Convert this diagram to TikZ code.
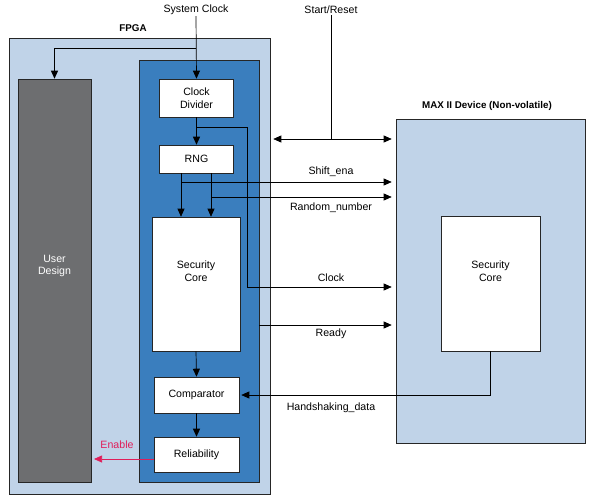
\documentclass[tikz,border=0pt]{standalone}
\usepackage{fontspec}
\setmainfont{Liberation Sans}
\usetikzlibrary{arrows.meta}
\definecolor{fpgafill}{RGB}{192,211,232}
\definecolor{corefill}{RGB}{58,126,190}
\definecolor{userfill}{RGB}{109,110,112}
\definecolor{enablered}{RGB}{224,30,90}
\begin{document}
\begin{tikzpicture}[x=1pt,y=-1pt,
        blk/.style={draw=black!85, line width=0.6pt, fill=white, inner sep=0pt, align=center, font=\fontsize{10.6}{12.6}\selectfont},
        sig/.style={line width=0.7pt, -{Triangle[length=8pt,width=7pt]}},
        lbl/.style={font=\fontsize{10.6}{12.6}\selectfont, inner sep=1pt, align=center},
        ttl/.style={font=\bfseries\fontsize{9.8}{12}\selectfont, inner sep=1pt}]
    \useasboundingbox (0,0) rectangle (596,499);
    % FPGA side
    \node[blk, fill=fpgafill, minimum width=261, minimum height=456] (fpga) at (139.5,266) {};
    \node[ttl] (fpgalbl) at (133,28) {FPGA};
    \node[blk, fill=userfill, minimum width=73, minimum height=403] (user) at (54.5,280.5) {};
    \node[lbl, text=white] (userlbl) at (54.5,266) {User\\Design};
    \node[blk, fill=corefill, minimum width=120, minimum height=422] (blue) at (199,271) {};
    \node[blk, minimum width=74, minimum height=38] (clkdiv) at (196.5,98) {Clock\\Divider};
    \node[blk, minimum width=74, minimum height=28] (rng) at (196.5,159) {RNG};
    \node[blk, minimum width=88, minimum height=134] (sc) at (196,284) {};
    \node[lbl] (sclbl) at (196,271) {Security\\Core};
    \node[blk, minimum width=85, minimum height=36] (cmp) at (196.5,395) {Comparator};
    \node[blk, minimum width=85, minimum height=35] (rel) at (196.5,454.5) {Reliability};
    % MAX II side
    \node[blk, fill=fpgafill, minimum width=189, minimum height=324] (max) at (490.5,281) {};
    \node[ttl] (maxlbl) at (487,106) {MAX II Device (Non-volatile)};
    \node[blk, minimum width=99, minimum height=135] (msc) at (490.5,283.5) {};
    \node[lbl] (msclbl) at (490.5,271) {Security\\Core};
    % inputs
    \node[lbl] (sysclk) at (196,10) {System Clock};
    \node[lbl] (startrst) at (331,10) {Start/Reset};
    \coordinate (sysbr) at (196,48);
    \coordinate (rstbr) at (331,139);
    \draw[sig] (sysclk.south) -- (clkdiv.north);
    \draw[sig] (sysbr) -| (user.north);
    \draw[line width=0.7pt] (startrst.south) -- (rstbr);
    \draw[sig, {Triangle[length=8pt,width=7pt]}-{Triangle[length=8pt,width=7pt]}, shorten <=3pt, shorten >=4pt]
        (fpga.east |- rstbr) -- (max.west |- rstbr);
    % inside the FPGA core
    \coordinate (clkbr) at (196.5,127);
    \coordinate (clkturn) at (247,287);
    \coordinate (shiftbr) at (181,182);
    \coordinate (randbr) at (211,197);
    \coordinate (readybr) at (259,325);
    \draw[sig] (clkdiv.south) -- (rng.north);
    \draw[sig] (rng.south -| shiftbr) -- (sc.north -| shiftbr);
    \draw[sig] (rng.south -| randbr) -- (sc.north -| randbr);
    \draw[sig] (sc.south) -- (cmp.north);
    \draw[sig] (cmp.south) -- (rel.north);
    % links to the MAX II
    \draw[sig, shorten >=4pt] (shiftbr) -- (shiftbr -| max.west);
    \draw[sig, shorten >=4pt] (randbr) -- (randbr -| max.west);
    \draw[sig, shorten >=4pt] (clkbr) -| (clkturn) -- (clkturn -| max.west);
    \draw[sig, shorten >=4pt] (readybr) -- (readybr -| max.west);
    \draw[sig, shorten >=2pt] (msc.south) |- (cmp.east);
    \foreach \y/\name/\txt in {172/shiftlbl/Shift\_ena, 208/randlbl/Random\_number, 278/clklbl/Clock, 334/readylbl/Ready, 408/hslbl/Handshaking\_data}
        \node[lbl] (\name) at (331,\y) {\txt};
    % enable
    \coordinate (enableend) at (94,459);
    \draw[sig, enablered] (rel.west |- enableend) -- (enableend);
    \node[lbl, text=enablered] (enablelbl) at (117,445) {Enable};
\end{tikzpicture}
\end{document}
